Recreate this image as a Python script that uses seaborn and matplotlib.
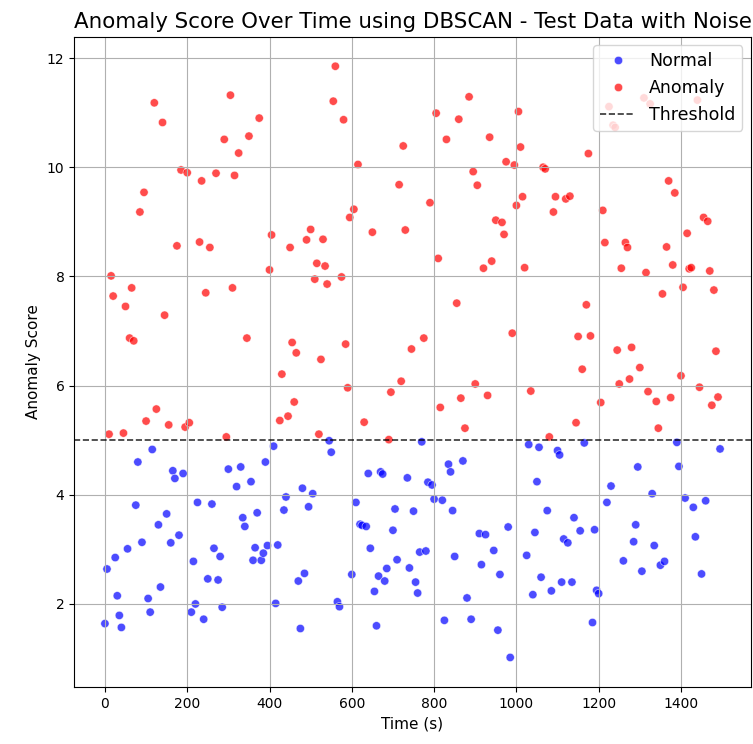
import numpy as np
import pandas as pd
import matplotlib
matplotlib.use("Agg")
import matplotlib.pyplot as plt
import seaborn as sns

# Time stamps (s), one sample every 5 s
time_s = list(range(0, 1500, 5))

# Anomaly scores (one per time stamp)
scores = [
    1.64, 2.64, 5.11, 8.01, 7.64, 2.85, 2.15, 1.79, 1.57, 5.13,
    7.45, 3.01, 6.87, 7.79, 6.82, 3.81, 4.60, 9.18, 3.13, 9.54,
    5.35, 2.10, 1.85, 4.83, 11.18, 5.57, 3.45, 2.31, 10.82, 7.29,
    3.65, 5.28, 3.12, 4.44, 4.30, 8.56, 3.26, 9.95, 4.39, 5.24,
    9.90, 5.32, 1.85, 2.78, 2.00, 3.86, 8.63, 9.75, 1.72, 7.70,
    2.46, 8.53, 3.83, 3.02, 9.89, 2.44, 2.87, 1.94, 10.51, 5.06,
    4.47, 11.32, 7.79, 9.85, 4.15, 10.26, 4.51, 3.58, 3.42, 6.87,
    10.57, 4.24, 2.80, 3.03, 3.67, 10.90, 2.80, 2.93, 4.60, 3.07,
    8.12, 8.76, 4.89, 2.01, 3.08, 5.36, 6.21, 3.72, 3.96, 5.44,
    8.53, 6.79, 5.70, 6.60, 2.42, 1.55, 4.12, 2.56, 8.67, 3.78,
    8.86, 4.02, 7.95, 8.24, 5.11, 6.48, 8.68, 8.19, 7.86, 4.99,
    4.78, 11.21, 11.85, 2.04, 1.95, 7.99, 10.87, 6.76, 5.96, 9.08,
    2.54, 9.23, 3.86, 10.05, 3.46, 3.44, 5.33, 3.42, 4.39, 3.02,
    8.81, 2.23, 1.60, 2.51, 4.42, 4.38, 2.42, 2.65, 5.01, 5.88,
    3.35, 3.74, 2.81, 9.68, 6.08, 10.39, 8.85, 4.31, 2.66, 6.67,
    3.70, 2.40, 2.20, 2.95, 4.97, 6.87, 2.97, 4.23, 9.35, 4.18,
    3.92, 10.99, 8.33, 5.60, 3.90, 1.70, 10.51, 4.56, 4.42, 3.71,
    2.87, 7.51, 10.88, 5.77, 4.62, 5.22, 2.11, 11.29, 1.72, 9.92,
    6.03, 9.67, 3.29, 2.72, 8.15, 3.27, 5.82, 10.55, 8.28, 2.98,
    9.03, 1.52, 2.54, 8.99, 8.77, 10.10, 3.41, 1.02, 6.96, 10.04,
    9.30, 11.02, 10.37, 9.46, 8.16, 2.89, 4.92, 5.90, 2.17, 3.31,
    4.24, 4.87, 2.49, 10.00, 9.97, 3.71, 5.06, 2.24, 9.18, 9.46,
    4.81, 4.73, 2.40, 3.19, 9.42, 3.12, 9.47, 2.40, 3.58, 5.32,
    6.90, 3.34, 6.30, 4.95, 7.48, 10.25, 6.91, 1.66, 3.36, 2.25,
    2.19, 5.69, 9.21, 8.62, 3.86, 11.11, 4.16, 10.77, 10.73, 6.65,
    6.03, 8.15, 2.79, 8.62, 8.53, 6.12, 6.70, 3.14, 3.45, 4.51,
    6.33, 2.60, 11.27, 8.07, 5.89, 11.16, 4.02, 3.07, 5.71, 5.22,
    2.71, 7.68, 2.78, 8.54, 9.75, 5.78, 8.21, 9.53, 4.96, 4.52,
    6.18, 7.80, 3.94, 8.79, 8.14, 8.16, 3.77, 3.23, 11.23, 5.97,
    2.55, 9.08, 3.89, 9.01, 8.10, 5.64, 7.75, 6.63, 5.79, 4.84,
]

threshold = 5.0
label_names = ["Normal", "Anomaly"]
label_colors = ["blue", "red"]

df = pd.DataFrame({"Time": time_s, "Score": scores})
df["Label"] = np.where(df["Score"] > threshold, label_names[1], label_names[0])

fig = plt.figure(figsize=(7.53, 7.44), dpi=100)
ax = fig.add_axes([0.0985, 0.0766, 0.8986, 0.8741])

sns.scatterplot(data=df, x="Time", y="Score", hue="Label",
                hue_order=label_names,
                palette=dict(zip(label_names, label_colors)),
                alpha=0.7, ax=ax)
ax.axhline(threshold, color="black", linestyle="--", linewidth=1.2,
           alpha=0.8, label="Threshold")

ax.set_title("Anomaly Score Over Time using DBSCAN - Test Data with Noise",
             fontsize=15.4)
ax.set_xlabel("Time (s)", fontsize=11)
ax.set_ylabel("Anomaly Score", fontsize=11)
ax.grid(True)
ax.legend(loc="upper right", fontsize=12.5)

fig.savefig("out.png", dpi=100)
